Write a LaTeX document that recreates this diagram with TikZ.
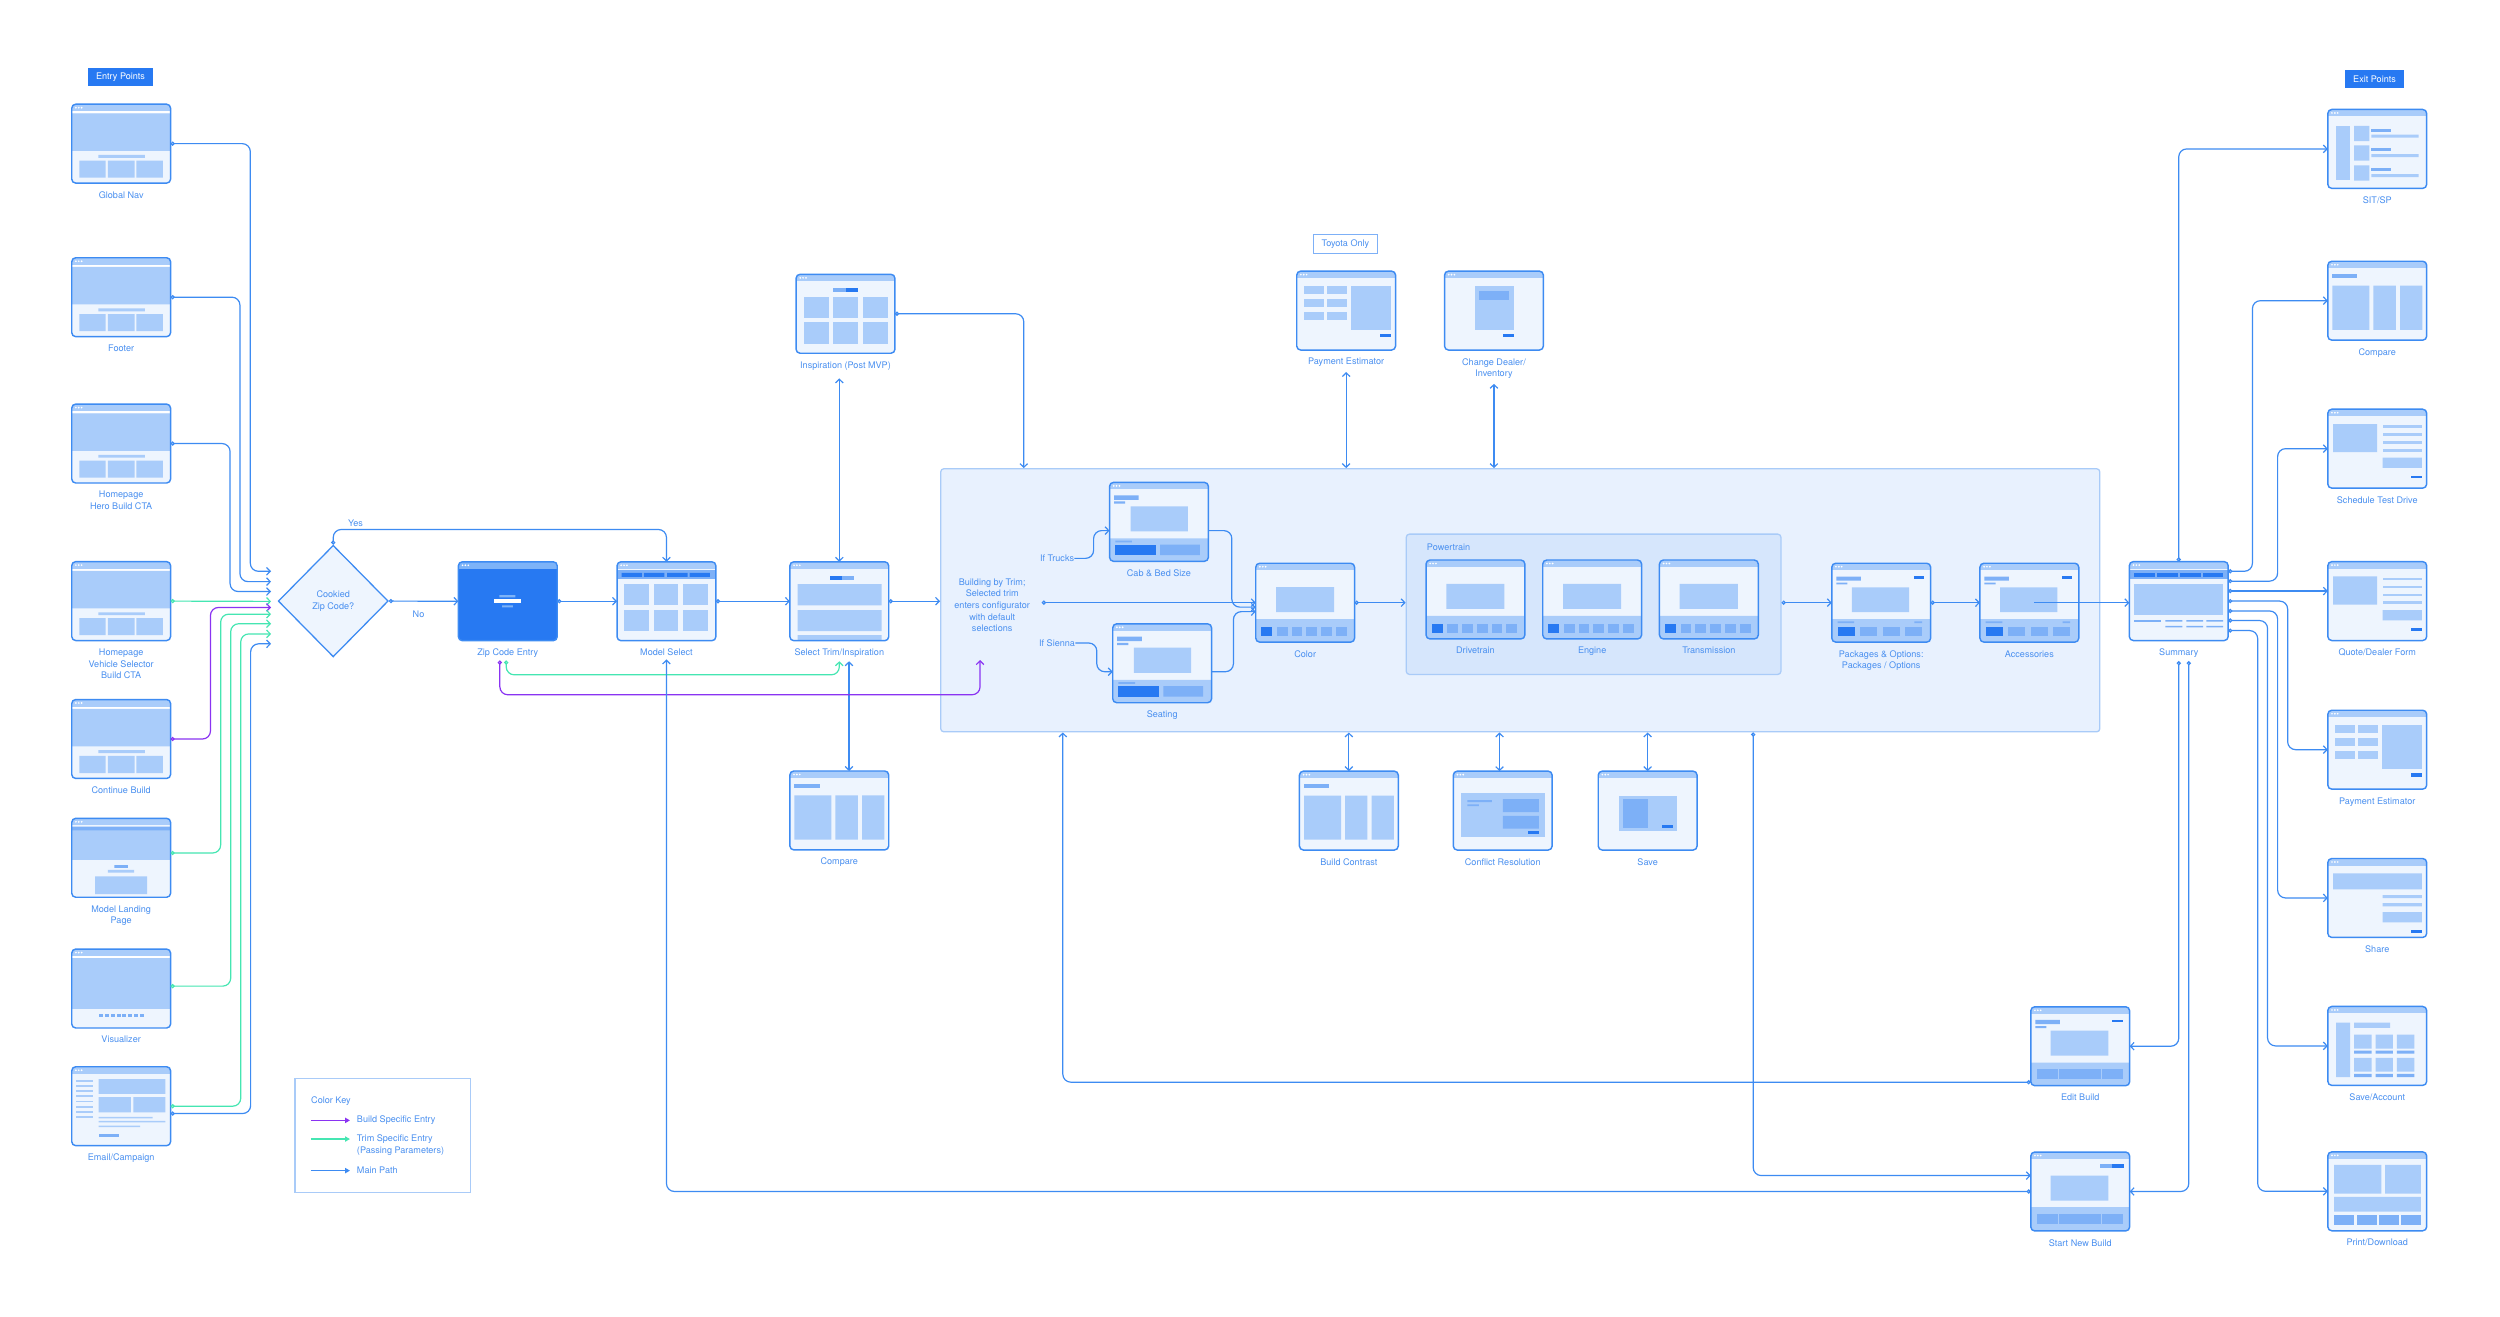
\documentclass[tikz,border=0pt]{standalone}
\usepackage{fontspec}
\setmainfont{TeX Gyre Heros}
\usetikzlibrary{positioning,calc,arrows.meta,shapes.geometric}

\definecolor{main}{HTML}{3D8BF2}
\definecolor{txt}{HTML}{4A90F0}
\definecolor{dark}{HTML}{2779F2}
\definecolor{med}{HTML}{7DB0F7}
\definecolor{light}{HTML}{A9CCFA}
\definecolor{scrbg}{HTML}{EEF5FE}
\definecolor{zone}{HTML}{E8F1FE}
\definecolor{zoneline}{HTML}{A9CBF8}
\definecolor{ptzone}{HTML}{D6E6FC}
\definecolor{hdrdk}{HTML}{7DB3F8}
\definecolor{purp}{HTML}{8A33F2}
\definecolor{mint}{HTML}{45E6B2}

% thumbnail contents, local coordinates of a 62 x 49.5 screen
\newcommand\scrHero{%
  \fill[white] (0,4.4) rectangle (62,5.8);
  \fill[light] (0,5.8) rectangle (62,29.3) (16.7,31.8) rectangle (45.9,33.6)
    (4.8,35.4) rectangle (21.2,46.1) (22.6,35.4) rectangle (39.4,46.1) (40.6,35.4) rectangle (57.2,46.1);}
\newcommand\scrLand{%
  \fill[light] (0,5.2) rectangle (62,26);
  \fill[med] (0,5.2) rectangle (62,7.5) (26.8,29.4) rectangle (35.2,31);
  \fill[light] (22.6,32.4) rectangle (39.2,34) (14.7,36.4) rectangle (47.3,47.5);}
\newcommand\scrVisu{%
  \fill[white] (0,4.4) rectangle (62,5.8);
  \fill[light] (0,5.8) rectangle (62,37.6);
  \foreach \i in {0,...,7} \fill[med] ({17.4+3.6*\i},40.8) rectangle ++(2.5,2);}
\newcommand\scrMail{%
  \foreach \i in {0,...,7} \fill[light] (2.7,{8.4+3.2*\i}) rectangle ++(10.9,1.2);
  \fill[light] (16.8,7.7) rectangle (58.7,17.1) (16.8,19) rectangle (37.1,28.7) (38.6,19) rectangle (58.7,28.7)
    (16.8,31.4) rectangle (50.7,32.4) (16.8,33.9) rectangle (58.7,34.9) (16.8,36.9) rectangle (42.9,37.9);
  \fill[med] (16.8,42.3) rectangle (29.5,43.8);}
\newcommand\scrZip{%
  \fill[hdrdk] (0,0) rectangle (62,4.4);
  \fill[white] (2.6,2.2) circle (0.6) (4.4,2.2) circle (0.6) (6.2,2.2) circle (0.6);
  \fill[hdrdk] (25.7,20.9) rectangle (35.8,22.4) (27.4,27.4) rectangle (34.2,28.6);
  \fill[white] (22.4,23.6) rectangle (39.2,25.7);}
\newcommand\scrModel{%
  \fill[med] (0,5.2) rectangle (62,10.7);
  \fill[dark] (2.8,6.9) rectangle (15.7,9.4) (16.8,6.9) rectangle (29.7,9.4) (31.4,6.9) rectangle (44.2,9.4) (45.6,6.9) rectangle (58.2,9.4);
  \foreach \x in {4.5,23,41.4} \foreach \y in {14,30.3} \fill[light] (\x,\y) rectangle ++(15.4,13.3);}
\newcommand\scrTrim{%
  \fill[dark] (25.3,8.8) rectangle (32.6,11.3);
  \fill[med] (32.6,8.8) rectangle (40.4,11.3);
  \fill[light] (4.8,14) rectangle (57.6,27.4) (4.8,30.3) rectangle (57.6,43.5) (4.8,46) rectangle (57.6,50);}
\newcommand\scrInsp{%
  \fill[med] (23.4,8.6) rectangle (31.4,11.1);
  \fill[dark] (31.4,8.6) rectangle (38.7,11.1);
  \foreach \x in {5,23.4,41.8} \foreach \y in {14,29.9} \fill[light] (\x,\y) rectangle ++(15.6,13.6);}
\newcommand\scrPick{%
  \fill[med] (2.8,8.1) rectangle (18.3,10.9) (2.8,11.9) rectangle (9.8,13.4);
  \fill[light] (13.2,15) rectangle (49.2,30.7) (0,35.1) rectangle (62,50);
  \fill[med] (3.6,36.6) rectangle (14,37.6) (31.7,39.1) rectangle (56.7,45.6);
  \fill[dark] (3.6,39.1) rectangle (29.2,45.6);}
\newcommand\scrSwatch{%
  \fill[light] (12.7,15) rectangle (49.2,30.7) (0,35.1) rectangle (62,50);
  \fill[dark] (3.6,40.2) rectangle (10.4,45.6);
  \foreach \i in {0,...,4} \fill[med] ({13.2+9.3*\i},40.2) rectangle ++(6.8,5.4);}
\newcommand\scrPkg{%
  \fill[med] (2.8,8.4) rectangle (18.2,10.9) (2.8,12.1) rectangle (9.8,13.2);
  \fill[dark] (51.3,8.1) rectangle (58,9.6);
  \fill[light] (12.6,15.2) rectangle (48.5,30.7) (0,35.1) rectangle (62,50);
  \fill[med] (3.6,36.5) rectangle (14,37.6) (51.8,36.5) rectangle (56.6,37.6);
  \fill[dark] (3.6,39.9) rectangle (14.3,45.5);
  \foreach \x in {17.6,31.9,46} \fill[med] (\x,39.9) rectangle ++(10.7,5.6);}
\newcommand\scrEdit{%
  \fill[med] (2.9,8.2) rectangle (18.2,10.9) (2.9,12.1) rectangle (9.8,13.4);
  \fill[dark] (51.2,8.2) rectangle (58.1,9.8);
  \fill[light] (12.5,15) rectangle (48.7,30.7) (0,35.1) rectangle (62,50);
  \foreach \x in {3.8,17.6,31.1,44.8} \fill[med] (\x,38.9) rectangle ++(13,6.7);}
\newcommand\scrNew{%
  \fill[med] (43.5,7.7) rectangle (51.2,10.2);
  \fill[dark] (51.2,7.7) rectangle (58.5,10.2);
  \fill[light] (12.5,14.8) rectangle (48.7,30.5) (0,34.5) rectangle (62,50);
  \foreach \x in {3.8,17.6,31.1,44.8} \fill[med] (\x,38.7) rectangle ++(13,6.7);}
\newcommand\scrSum{%
  \fill[med] (0,5.5) rectangle (62,11);
  \foreach \x in {3.1,17.4,31.7,46} \fill[dark] (\x,6.9) rectangle ++(13,2.7);
  \fill[light] (3.1,14.2) rectangle (59,33.6);
  \fill[med] (3.1,36.7) rectangle (19.6,37.7);
  \foreach \x in {22.6,35.7,48.3} \fill[med] (\x,36.7) rectangle ++(10.6,1) (\x,40.3) rectangle ++(10.6,1);}
\newcommand\scrSit{%
  \fill[light] (5.2,10.3) rectangle (14,44.3);
  \foreach \y in {10.3,22.5,35} {\fill[light] (16.5,\y) rectangle ++(9.6,9.6) (27.3,{\y+5.5}) rectangle ++(29.7,1.9);
    \fill[med] (27.3,{\y+1.7}) rectangle ++(12.4,1.9);}}
\newcommand\scrCmp{%
  \fill[med] (2.9,8.2) rectangle (18.6,10.8);
  \fill[light] (2.9,15.3) rectangle (26.1,43) (28.6,15.3) rectangle (42.6,43) (45.3,15.3) rectangle (59.3,43);}
\newcommand\scrForm{%
  \fill[light] (3.3,9.3) rectangle (30.9,27) (34.3,30.4) rectangle (59,36.8);
  \foreach \y in {10,15,20,25} \fill[light] (34.3,\y) rectangle ++(24.7,1.8);
  \fill[dark] (52,41.9) rectangle (59,43.4);}
\newcommand\scrPay{%
  \foreach \x in {4.6,19.2} \foreach \y in {9.4,17.5,25.5} \fill[light] (\x,\y) rectangle ++(12.4,5);
  \fill[light] (34,9.4) rectangle (58.9,37);
  \fill[dark] (52,39.3) rectangle (58.9,41.6);}
\newcommand\scrDeal{%
  \fill[light] (18.8,9.4) rectangle (43.7,37);
  \fill[med] (21.7,12.7) rectangle (40.5,18);
  \fill[dark] (36.5,39.3) rectangle (43.7,41.6);}
\newcommand\scrShare{%
  \fill[light] (3.3,9.4) rectangle (59,19.3) (34.3,23) rectangle (59,24.8) (34.3,28) rectangle (59,30) (34.3,33.7) rectangle (59,40.1);
  \fill[dark] (52,44.8) rectangle (59,46.5);}
\newcommand\scrAcct{%
  \fill[light] (5.2,10.1) rectangle (14,44.3) (16.5,10.1) rectangle (39.1,13.4);
  \foreach \x in {16.5,29.9,43.3} {\fill[light] (\x,17.6) rectangle ++(10.9,8.9) (\x,32.2) rectangle ++(10.9,8.6);
    \fill[med] (\x,27.7) rectangle ++(10.9,1.8) (\x,42.3) rectangle ++(10.9,2);}}
\newcommand\scrPrint{%
  \fill[light] (4,8.2) rectangle (33.5,26.2) (36,8.2) rectangle (58.4,26.2) (4,28.2) rectangle (58.4,37.4);
  \foreach \x in {4,18,31.8,45.7} \fill[med] (\x,39.6) rectangle ++(12.6,6.4);}
\newcommand\scrSave{%
  \fill[light] (13,15.3) rectangle (49.1,37.6);
  \fill[med] (15.3,17.6) rectangle (31.2,35.8);
  \fill[dark] (40.3,34.1) rectangle (47,35.9);}
\newcommand\scrConf{%
  \fill[light] (4.8,13.6) rectangle (57.5,41.6);
  \fill[med] (8.8,18.2) rectangle (24.2,19.4) (8.8,20.9) rectangle (16.1,21.9) (31.1,17.6) rectangle (53.7,25.7) (31.1,28.1) rectangle (53.7,36);
  \fill[dark] (46.6,37.7) rectangle (53.7,39.7);}

% a screen thumbnail: [fill]{name}{centre}{contents}
\newcommand\scrnode[4][scrbg]{%
  \node[scr, fill=#1] (#2) at (#3) {};
  \begin{scope}[shift={(#2.north west)}]
    \clip[rounded corners=2.5pt] (0,0) rectangle (62,49.5);
    \fill[light] (0,0) rectangle (62,4.4);
    \fill[white] (2.6,2.2) circle (0.6) (4.4,2.2) circle (0.6) (6.2,2.2) circle (0.6);
    #4
  \end{scope}
  \draw[scrline] (#2.north west) rectangle (#2.south east);}

\tikzset{
  barb/.tip={Straight Barb[length=2.3pt,width=4.8pt]},
  ring/.tip={Circle[length=2.6pt,fill=white]},
  scr/.style={rounded corners=2.5pt, minimum width=62, minimum height=49.5, inner sep=0pt, outer sep=0pt},
  scrline/.style={draw=main, line width=0.9pt, rounded corners=2.5pt},
  lbl/.style={text=txt, inner sep=0pt, align=center},
  tag/.style={fill=dark, text=white, minimum width=40.8, minimum height=11.4, inner sep=0pt},
  zone/.style={draw=zoneline, fill=zone, line width=0.8pt, rounded corners=2pt, inner sep=0pt},
  link/.style={draw=main, line width=0.75pt, rounded corners=5pt, -barb},
  olink/.style={link, ring-barb},
  both/.style={link, barb-barb},
  keyln/.style={line width=0.75pt, -{Triangle[length=3pt,width=3.2pt]}},
}

\begin{document}
\begin{tikzpicture}[x=1pt, y=-1pt, node distance=5pt, font=\fontsize{5.7}{7.3}\selectfont]
  \path[use as bounding box, fill=white] (0,0) rectangle (1568,826);

  % configurator area and powertrain group
  \node[zone, minimum width=727, minimum height=165] (cfg) at (953.5,376.5) {};
  \node[zone, fill=ptzone, minimum width=235, minimum height=88] (pt) at (999.5,379) {};
  \node[lbl, anchor=west] (pt-t) at (894.8,343.5) {Powertrain};

  \node[tag] (entry) at (75.6,48.3) {Entry Points};
  \node[tag, minimum width=37] (exit) at (1489.3,49.4) {Exit Points};

  % entry points
  \scrnode{gnav}{76,90.1}{\scrHero}
  \node[lbl, below=of gnav] (gnav-l) {Global Nav};
  \scrnode{foot}{76,186.4}{\scrHero}
  \node[lbl, below=of foot] (foot-l) {Footer};
  \scrnode{hero}{76,278.2}{\scrHero}
  \node[lbl, below=of hero] (hero-l) {Homepage\\Hero Build CTA};
  \scrnode{vsel}{76,377}{\scrHero}
  \node[lbl, below=of vsel] (vsel-l) {Homepage\\Vehicle Selector\\Build CTA};
  \scrnode{contb}{76,463.5}{\scrHero}
  \node[lbl, below=of contb] (contb-l) {Continue Build};
  \scrnode{mland}{76,538}{\scrLand}
  \node[lbl, below=of mland] (mland-l) {Model Landing\\Page};
  \scrnode{visu}{76,620}{\scrVisu}
  \node[lbl, below=of visu] (visu-l) {Visualizer};
  \scrnode{email}{76,693.8}{\scrMail}
  \node[lbl, below=of email] (email-l) {Email/Campaign};

  \node[diamond, aspect=1, draw=main, fill=scrbg, line width=0.8pt, inner sep=0pt,
    minimum width=69, minimum height=70, text=txt, align=center] (dia) at (209,377) {Cookied\\Zip Code?};
  \node[lbl] (yes) at (223,328) {Yes};
  \node[lbl] (no) at (262.5,385) {No};

  % main path
  \scrnode[dark]{zip}{318.5,377.1}{\scrZip}
  \node[lbl, below=of zip] (zip-l) {Zip Code Entry};
  \scrnode{msel}{418,377.1}{\scrModel}
  \node[lbl, below=of msel] (msel-l) {Model Select};
  \scrnode{trim}{526.4,377.1}{\scrTrim}
  \node[lbl, below=of trim] (trim-l) {Select Trim/Inspiration};
  \scrnode{insp}{530.3,196.8}{\scrInsp}
  \node[lbl, below=of insp] (insp-l) {Inspiration (Post MVP)};
  \scrnode{mcmp}{526.4,508.3}{\scrCmp}
  \node[lbl, below=of mcmp] (mcmp-l) {Compare};

  % configurator
  \node[lbl] (cfgtxt) at (622.3,379.7) {Building by Trim;\\Selected trim\\enters configurator\\with default\\selections};
  \node[lbl] (iftr) at (663,350.2) {If Trucks};
  \node[lbl] (ifsi) at (663,403.3) {If Sienna};
  \scrnode{cab}{726.9,327.3}{\scrPick}
  \node[lbl, below=of cab] (cab-l) {Cab \& Bed Size};
  \scrnode{seat}{728.9,416}{\scrPick}
  \node[lbl, below=of seat] (seat-l) {Seating};
  \scrnode{color}{818.6,378}{\scrSwatch}
  \node[lbl, below=of color] (color-l) {Color};
  \scrnode{drive}{925.4,376}{\scrSwatch}
  \node[lbl, below=of drive] (drive-l) {Drivetrain};
  \scrnode{eng}{998.6,376}{\scrSwatch}
  \node[lbl, below=of eng] (eng-l) {Engine};
  \scrnode{trans}{1071.8,376}{\scrSwatch}
  \node[lbl, below=of trans] (trans-l) {Transmission};
  \scrnode{pkg}{1179.9,378}{\scrPkg}
  \node[lbl, below=of pkg] (pkg-l) {Packages \& Options:\\Packages / Options};
  \scrnode{acc}{1272.8,378}{\scrPkg}
  \node[lbl, below=of acc] (acc-l) {Accessories};

  % around the configurator
  \node[draw=med, fill=white, line width=0.6pt, minimum width=40.2, minimum height=12.1, inner sep=0pt, text=txt] (toy) at (843.8,153) {Toyota Only};
  \scrnode{tpay}{844.3,194.8}{\scrPay}
  \node[lbl, below=of tpay] (tpay-l) {Payment Estimator};
  \scrnode{chd}{937,194.8}{\scrDeal}
  \node[lbl, below=of chd] (chd-l) {Change Dealer/\\Inventory};
  \scrnode{bcon}{846,508.4}{\scrCmp}
  \node[lbl, below=of bcon] (bcon-l) {Build Contrast};
  \scrnode{conf}{942.5,508.4}{\scrConf}
  \node[lbl, below=of conf] (conf-l) {Conflict Resolution};
  \scrnode{save}{1033.4,508.4}{\scrSave}
  \node[lbl, below=of save] (save-l) {Save};
  \scrnode{ebuild}{1304.7,656.2}{\scrEdit}
  \node[lbl, below=of ebuild] (ebuild-l) {Edit Build};
  \scrnode{snb}{1304.7,747.3}{\scrNew}
  \node[lbl, below=of snb] (snb-l) {Start New Build};

  % summary and exit points
  \scrnode{sum}{1366.5,377}{\scrSum}
  \node[lbl, below=of sum] (sum-l) {Summary};
  \scrnode{sit}{1491,93.4}{\scrSit}
  \node[lbl, below=of sit] (sit-l) {SIT/SP};
  \scrnode{ecmp}{1491,188.6}{\scrCmp}
  \node[lbl, below=of ecmp] (ecmp-l) {Compare};
  \scrnode{std}{1491,281.4}{\scrForm}
  \node[lbl, below=of std] (std-l) {Schedule Test Drive};
  \scrnode{quote}{1491,377}{\scrForm}
  \node[lbl, below=of quote] (quote-l) {Quote/Dealer Form};
  \scrnode{epay}{1491,470.2}{\scrPay}
  \node[lbl, below=of epay] (epay-l) {Payment Estimator};
  \scrnode{share}{1491,563.2}{\scrShare}
  \node[lbl, below=of share] (share-l) {Share};
  \scrnode{sacc}{1491,656}{\scrAcct}
  \node[lbl, below=of sacc] (sacc-l) {Save/Account};
  \scrnode{prt}{1491,747.2}{\scrPrint}
  \node[lbl, below=of prt] (prt-l) {Print/Download};

  % colour key
  \node[draw=zoneline, line width=0.7pt, minimum width=110.2, minimum height=71.5, inner sep=0pt] (key) at (240.1,712) {};
  \node[lbl, anchor=west] (key-t) at (195,690.3) {Color Key};
  \node[lbl, anchor=west] (k1) at (223.7,702.7) {Build Specific Entry};
  \node[lbl, anchor=north west, align=left] (k2) at (223.7,711.6) {Trim Specific Entry\\(Passing Parameters)};
  \node[lbl, anchor=west] (k3) at (223.7,734.2) {Main Path};
  \draw[keyln, purp] ($(k1.west)+(-28.7,0)$) -- ($(k1.west)+(-4.2,0)$);
  \draw[keyln, mint] ($(k2.north west)+(-28.7,2.8)$) -- ($(k2.north west)+(-4.2,2.8)$);
  \draw[keyln, main] ($(k3.west)+(-28.7,0)$) -- ($(k3.west)+(-4.2,0)$);

  % entry connectors land just left of the decision
  \coordinate (j1) at (170,358.3);
  \coordinate (j2) at (170,364.8);
  \coordinate (j3) at (170,371);
  \coordinate (j4) at (170,377.2);
  \coordinate (j5) at (170,381);
  \coordinate (j6) at (170,385.2);
  \coordinate (j7) at (170,391.2);
  \coordinate (j8) at (170,397.6);
  \coordinate (j9) at (170,403.8);
  \draw[olink] (gnav.east) -| ($(j1)+(-13,0)$) -- (j1);
  \draw[olink] (foot.east) -| ($(j2)+(-19.5,0)$) -- (j2);
  \draw[olink] (hero.east) -| ($(j3)+(-25.7,0)$) -- (j3);
  \draw[olink, draw=mint] (vsel.east) -- (j4);
  \draw[olink, draw=purp] (contb.east) -| ($(j5)+(-38,0)$) -- (j5);
  \draw[olink, draw=mint] ($(mland.east)+(0,-3)$) -| ($(j6)+(-31.6,0)$) -- (j6);
  \draw[olink, draw=mint] ($(visu.east)+(0,-1.5)$) -| ($(j7)+(-25.3,0)$) -- (j7);
  \draw[olink, draw=mint] (email.east) -| ($(j8)+(-19,0)$) -- (j8);
  \draw[olink] ($(email.east)+(0,4.6)$) -| ($(j9)+(-12.8,0)$) -- (j9);

  \draw[olink] (dia.east) -- (zip.west);
  \draw[olink] (dia.north) -- ++(0,-9.5) -| (msel.north);
  \draw[olink] (zip.east) -- (msel.west);
  \draw[olink] (msel.east) -- (trim.west);
  \draw[olink] (trim.east) -- (trim.east -| cfg.west);
  \draw[olink] (insp.east) -| ($(cfg.north west)+(52.5,0)$);
  \draw[both] (trim.north) -- ([yshift=-5pt]trim.north |- insp-l.south);
  \draw[both] ($(mcmp.north)+(6.1,0)$) -- ($(mcmp.north |- trim-l.south)+(6.1,2)$);
  \coordinate (bte) at (614.7,414);
  \draw[olink, draw=mint] ($(zip-l.south)+(-1,1.5)$) -- ++(0,9) -| ($(trim-l.south)+(0,2)$);
  \draw[olink, draw=purp] ($(zip-l.south)+(-5,1.5)$) -- ++(0,21.5) -| (bte);
  \draw[olink] (snb.west) -| ($(msel-l.south)+(0,2)$);

  % inside the configurator
  \coordinate (trimin) at (653.4,378);
  \draw[olink] (trimin) -- (color.west);
  \draw[link] (iftr.east) -| ($(cab.west)+(-10,5.5)$) -- ($(cab.west)+(0,5.5)$);
  \draw[link] (ifsi.east) -| ($(seat.west)+(-10,5.3)$) -- ($(seat.west)+(0,5.3)$);
  \draw[link] ($(cab.east)+(0,5.5)$) -| ($(color.west)+(-15,2.8)$) -- ($(color.west)+(0,2.8)$);
  \draw[link] ($(seat.east)+(0,5.3)$) -| ($(color.west)+(-14,5.6)$) -- ($(color.west)+(0,5.6)$);
  \draw[olink] (color.east) -- (color.east -| pt.west);
  \draw[olink] (pkg.west -| pt.east) -- (pkg.west);
  \draw[olink] (pkg.east) -- (acc.west);
  \draw[link] ($(acc.center)+(3,0)$) -- (acc.center -| sum.west);

  % side screens of the configurator
  \draw[both] ([yshift=-3pt]tpay-l.south) -- (tpay-l.south |- cfg.north);
  \draw[both] ([yshift=-3pt]chd-l.south) -- (chd-l.south |- cfg.north);
  \draw[both] (bcon.north |- cfg.south) -- (bcon.north);
  \draw[both] ([xshift=-2pt]conf.north |- cfg.south) -- ([xshift=-2pt]conf.north);
  \draw[both] (save.north |- cfg.south) -- (save.north);
  \draw[olink] ($(ebuild.south west)+(0,-2.2)$) -| ($(cfg.south west)+(77,0)$);
  \draw[olink] ($(cfg.south west)+(510,0)$) |- ($(snb.west)+(0,-10)$);

  % summary to exits
  \draw[olink] ($(sum-l.south)+(0,2)$) |- (ebuild.east);
  \draw[olink] ($(sum-l.south)+(6.3,2)$) |- (snb.east);
  \draw[olink] (sum.north) |- (sit.west);
  \draw[olink] ($(sum.east)+(0,-18.7)$) -| ($(ecmp.west)+(-47.3,0)$) -- (ecmp.west);
  \draw[olink] ($(sum.east)+(0,-12.5)$) -| ($(std.west)+(-31.5,0)$) -- (std.west);
  \draw[olink] ($(sum.east)+(0,-6.3)$) -- ($(quote.west)+(0,-6.3)$);
  \draw[olink] (sum.east) -| ($(epay.west)+(-25.2,0)$) -- (epay.west);
  \draw[olink] ($(sum.east)+(0,6.2)$) -| ($(share.west)+(-31.5,0)$) -- (share.west);
  \draw[olink] ($(sum.east)+(0,12.2)$) -| ($(sacc.west)+(-37.8,0)$) -- (sacc.west);
  \draw[olink] ($(sum.east)+(0,18.5)$) -| ($(prt.west)+(-44,0)$) -- (prt.west);
\end{tikzpicture}
\end{document}
